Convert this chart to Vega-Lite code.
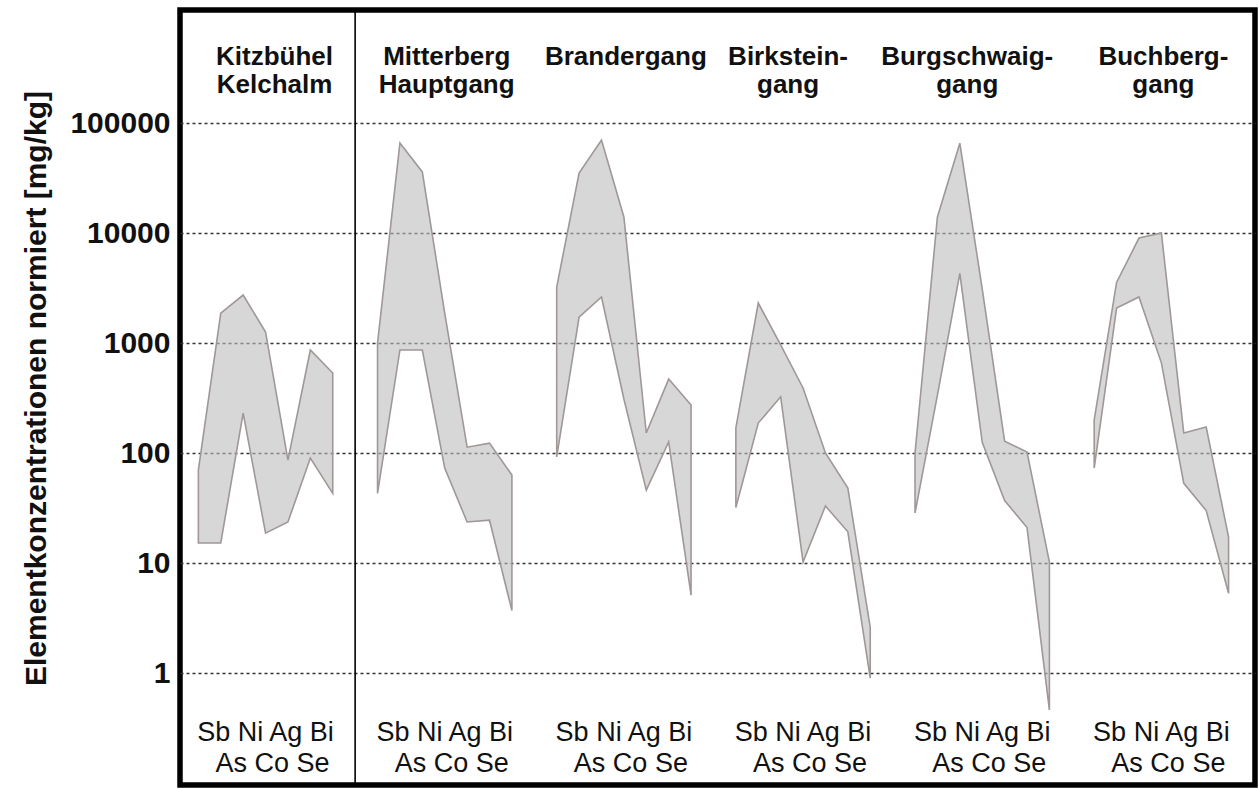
{
  "$schema": "https://vega.github.io/schema/vega-lite/v6.json",
  "width": 1075,
  "height": 775,
  "autosize": {"type": "none"},
  "padding": {"left": 180, "top": 10, "right": 4, "bottom": 4},
  "background": "white",
  "config": {"view": {"stroke": "black", "strokeWidth": 5.5}, "font": "Liberation Sans"},
  "datasets": {
    "bands": [
      {"site": "Kitzbühel", "element": "Sb", "slot": "Kitzbühel Sb", "lo": 15.2, "hi": 70},
      {"site": "Kitzbühel", "element": "As", "slot": "Kitzbühel As", "lo": 15.2, "hi": 1870},
      {"site": "Kitzbühel", "element": "Ni", "slot": "Kitzbühel Ni", "lo": 230, "hi": 2730},
      {"site": "Kitzbühel", "element": "Co", "slot": "Kitzbühel Co", "lo": 18.7, "hi": 1260},
      {"site": "Kitzbühel", "element": "Ag", "slot": "Kitzbühel Ag", "lo": 23.6, "hi": 86},
      {"site": "Kitzbühel", "element": "Se", "slot": "Kitzbühel Se", "lo": 90, "hi": 864},
      {"site": "Kitzbühel", "element": "Bi", "slot": "Kitzbühel Bi", "lo": 43, "hi": 533},
      {"site": "Mitterberg", "element": "Sb", "slot": "Mitterberg Sb", "lo": 43, "hi": 1000},
      {"site": "Mitterberg", "element": "As", "slot": "Mitterberg As", "lo": 864, "hi": 65800},
      {"site": "Mitterberg", "element": "Ni", "slot": "Mitterberg Ni", "lo": 864, "hi": 35900},
      {"site": "Mitterberg", "element": "Co", "slot": "Mitterberg Co", "lo": 73, "hi": 1870},
      {"site": "Mitterberg", "element": "Ag", "slot": "Mitterberg Ag", "lo": 23.6, "hi": 113},
      {"site": "Mitterberg", "element": "Se", "slot": "Mitterberg Se", "lo": 24.5, "hi": 123},
      {"site": "Mitterberg", "element": "Bi", "slot": "Mitterberg Bi", "lo": 3.7, "hi": 63},
      {"site": "Brandergang", "element": "Sb", "slot": "Brandergang Sb", "lo": 92, "hi": 3220},
      {"site": "Brandergang", "element": "As", "slot": "Brandergang As", "lo": 1720, "hi": 35100},
      {"site": "Brandergang", "element": "Ni", "slot": "Brandergang Ni", "lo": 2620, "hi": 70000},
      {"site": "Brandergang", "element": "Co", "slot": "Brandergang Co", "lo": 310, "hi": 14000},
      {"site": "Brandergang", "element": "Ag", "slot": "Brandergang Ag", "lo": 46, "hi": 152},
      {"site": "Brandergang", "element": "Se", "slot": "Brandergang Se", "lo": 126, "hi": 470},
      {"site": "Brandergang", "element": "Bi", "slot": "Brandergang Bi", "lo": 5.1, "hi": 273},
      {"site": "Birkstein", "element": "Sb", "slot": "Birkstein Sb", "lo": 32, "hi": 169},
      {"site": "Birkstein", "element": "As", "slot": "Birkstein As", "lo": 187, "hi": 2310},
      {"site": "Birkstein", "element": "Ni", "slot": "Birkstein Ni", "lo": 324, "hi": 960},
      {"site": "Birkstein", "element": "Co", "slot": "Birkstein Co", "lo": 10.2, "hi": 390},
      {"site": "Birkstein", "element": "Ag", "slot": "Birkstein Ag", "lo": 33, "hi": 100},
      {"site": "Birkstein", "element": "Se", "slot": "Birkstein Se", "lo": 19.2, "hi": 48},
      {"site": "Birkstein", "element": "Bi", "slot": "Birkstein Bi", "lo": 0.9, "hi": 2.6},
      {"site": "Burgschwaig", "element": "Sb", "slot": "Burgschwaig Sb", "lo": 28.5, "hi": 100},
      {"site": "Burgschwaig", "element": "As", "slot": "Burgschwaig As", "lo": 336, "hi": 14000},
      {"site": "Burgschwaig", "element": "Ni", "slot": "Burgschwaig Ni", "lo": 4300, "hi": 65600},
      {"site": "Burgschwaig", "element": "Co", "slot": "Burgschwaig Co", "lo": 125, "hi": 3100},
      {"site": "Burgschwaig", "element": "Ag", "slot": "Burgschwaig Ag", "lo": 37, "hi": 128},
      {"site": "Burgschwaig", "element": "Se", "slot": "Burgschwaig Se", "lo": 21, "hi": 102},
      {"site": "Burgschwaig", "element": "Bi", "slot": "Burgschwaig Bi", "lo": 0.46, "hi": 10.2},
      {"site": "Buchberg", "element": "Sb", "slot": "Buchberg Sb", "lo": 73, "hi": 200},
      {"site": "Buchberg", "element": "As", "slot": "Buchberg As", "lo": 2080, "hi": 3550},
      {"site": "Buchberg", "element": "Ni", "slot": "Buchberg Ni", "lo": 2620, "hi": 9000},
      {"site": "Buchberg", "element": "Co", "slot": "Buchberg Co", "lo": 660, "hi": 10000},
      {"site": "Buchberg", "element": "Ag", "slot": "Buchberg Ag", "lo": 53, "hi": 152},
      {"site": "Buchberg", "element": "Se", "slot": "Buchberg Se", "lo": 30, "hi": 172},
      {"site": "Buchberg", "element": "Bi", "slot": "Buchberg Bi", "lo": 5.3, "hi": 17.2}
    ],
    "sites": [
      {"site": "Kitzbühel", "title": "Kitzbühel\nKelchalm", "mid": "Kitzbühel Co"},
      {"site": "Mitterberg", "title": "Mitterberg\nHauptgang", "mid": "Mitterberg Co"},
      {"site": "Brandergang", "title": "Brandergang", "mid": "Brandergang Co"},
      {"site": "Birkstein", "title": "Birkstein-\ngang", "mid": "Birkstein Co"},
      {"site": "Burgschwaig", "title": "Burgschwaig-\ngang", "mid": "Burgschwaig Co"},
      {"site": "Buchberg", "title": "Buchberg-\ngang", "mid": "Buchberg Co"}
    ]
  },
  "layer": [
    {
      "data": {"name": "bands"},
      "mark": {"type": "area", "fill": "#bdbdbd", "fillOpacity": 0.6, "stroke": "#9f9896", "strokeWidth": 1.6},
      "encoding": {
        "x": {
          "field": "slot",
          "type": "ordinal",
          "sort": ["Kitzbühel Sb","Kitzbühel As","Kitzbühel Ni","Kitzbühel Co","Kitzbühel Ag","Kitzbühel Se","Kitzbühel Bi","gap1","Mitterberg Sb","Mitterberg As","Mitterberg Ni","Mitterberg Co","Mitterberg Ag","Mitterberg Se","Mitterberg Bi","gap2","Brandergang Sb","Brandergang As","Brandergang Ni","Brandergang Co","Brandergang Ag","Brandergang Se","Brandergang Bi","gap3","Birkstein Sb","Birkstein As","Birkstein Ni","Birkstein Co","Birkstein Ag","Birkstein Se","Birkstein Bi","gap4","Burgschwaig Sb","Burgschwaig As","Burgschwaig Ni","Burgschwaig Co","Burgschwaig Ag","Burgschwaig Se","Burgschwaig Bi","gap5","Buchberg Sb","Buchberg As","Buchberg Ni","Buchberg Co","Buchberg Ag","Buchberg Se","Buchberg Bi"],
          "scale": {
            "type": "point",
            "domain": ["Kitzbühel Sb","Kitzbühel As","Kitzbühel Ni","Kitzbühel Co","Kitzbühel Ag","Kitzbühel Se","Kitzbühel Bi","gap1","Mitterberg Sb","Mitterberg As","Mitterberg Ni","Mitterberg Co","Mitterberg Ag","Mitterberg Se","Mitterberg Bi","gap2","Brandergang Sb","Brandergang As","Brandergang Ni","Brandergang Co","Brandergang Ag","Brandergang Se","Brandergang Bi","gap3","Birkstein Sb","Birkstein As","Birkstein Ni","Birkstein Co","Birkstein Ag","Birkstein Se","Birkstein Bi","gap4","Burgschwaig Sb","Burgschwaig As","Burgschwaig Ni","Burgschwaig Co","Burgschwaig Ag","Burgschwaig Se","Burgschwaig Bi","gap5","Buchberg Sb","Buchberg As","Buchberg Ni","Buchberg Co","Buchberg Ag","Buchberg Se","Buchberg Bi"],
            "padding": 1.266,
            "align": 0.41
          },
          "axis": null
        },
        "y": {
          "field": "hi",
          "type": "quantitative",
          "scale": {"type": "log", "domain": [0.0959, 1065000], "nice": false},
          "axis": {
            "values": [1, 10, 100, 1000, 10000, 100000],
            "format": "d",
            "grid": true,
            "gridDash": [3, 3],
            "gridColor": "#333333",
            "gridWidth": 1.5,
            "ticks": false,
            "tickSize": 0,
            "domain": false,
            "labelFont": "Liberation Sans",
            "labelFontWeight": "bold",
            "labelFontSize": 30,
            "labelColor": "#111111",
            "labelPadding": 10,
            "title": "Elementkonzentrationen normiert [mg/kg]",
            "titleFont": "Liberation Sans",
            "titleFontWeight": "bold",
            "titleFontSize": 30,
            "titleColor": "#111111",
            "titleX": -144,
            "titleY": 378,
            "titleAngle": -90,
            "titleAlign": "center",
            "titleBaseline": "middle"
          }
        },
        "y2": {"field": "lo"},
        "detail": {"field": "site"}
      }
    },
    {
      "data": {"values": [{}]},
      "mark": {"type": "rule", "color": "black", "strokeWidth": 1.6},
      "encoding": {"x": {"datum": "gap1", "type": "ordinal"}}
    },
    {
      "data": {"name": "sites"},
      "transform": [{"filter": {"field": "site", "oneOf": ["Mitterberg", "Brandergang", "Buchberg"]}}],
      "mark": {"type": "text", "font": "Liberation Sans", "fontWeight": "bold", "fontSize": 26, "lineBreak": "\n", "lineHeight": 28, "baseline": "alphabetic", "align": "center", "dx": 2, "color": "#111111"},
      "encoding": {
        "x": {"field": "mid", "type": "ordinal"},
        "y": {"datum": 336700, "type": "quantitative"},
        "text": {"field": "title"}
      }
    },
    {
      "data": {"name": "sites"},
      "transform": [{"filter": {"field": "site", "oneOf": ["Kitzbühel"]}}],
      "mark": {"type": "text", "font": "Liberation Sans", "fontWeight": "bold", "fontSize": 26, "lineBreak": "\n", "lineHeight": 28, "baseline": "alphabetic", "align": "center", "dx": 9, "color": "#111111"},
      "encoding": {
        "x": {"field": "mid", "type": "ordinal"},
        "y": {"datum": 336700, "type": "quantitative"},
        "text": {"field": "title"}
      }
    },
    {
      "data": {"name": "sites"},
      "transform": [{"filter": {"field": "site", "oneOf": ["Birkstein", "Burgschwaig"]}}],
      "mark": {"type": "text", "font": "Liberation Sans", "fontWeight": "bold", "fontSize": 26, "lineBreak": "\n", "lineHeight": 28, "baseline": "alphabetic", "align": "center", "dx": -15, "color": "#111111"},
      "encoding": {
        "x": {"field": "mid", "type": "ordinal"},
        "y": {"datum": 336700, "type": "quantitative"},
        "text": {"field": "title"}
      }
    },
    {
      "data": {"name": "sites"},
      "mark": {"type": "text", "font": "Liberation Sans", "fontSize": 27, "baseline": "alphabetic", "align": "center", "color": "#111111"},
      "encoding": {
        "x": {"field": "mid", "type": "ordinal"},
        "y": {"datum": 0.241, "type": "quantitative"},
        "text": {"value": "Sb Ni Ag Bi"}
      }
    },
    {
      "data": {"name": "sites"},
      "mark": {"type": "text", "font": "Liberation Sans", "fontSize": 27, "baseline": "alphabetic", "align": "center", "dx": 7, "color": "#111111"},
      "encoding": {
        "x": {"field": "mid", "type": "ordinal"},
        "y": {"datum": 0.126, "type": "quantitative"},
        "text": {"value": "As Co Se"}
      }
    }
  ]
}
